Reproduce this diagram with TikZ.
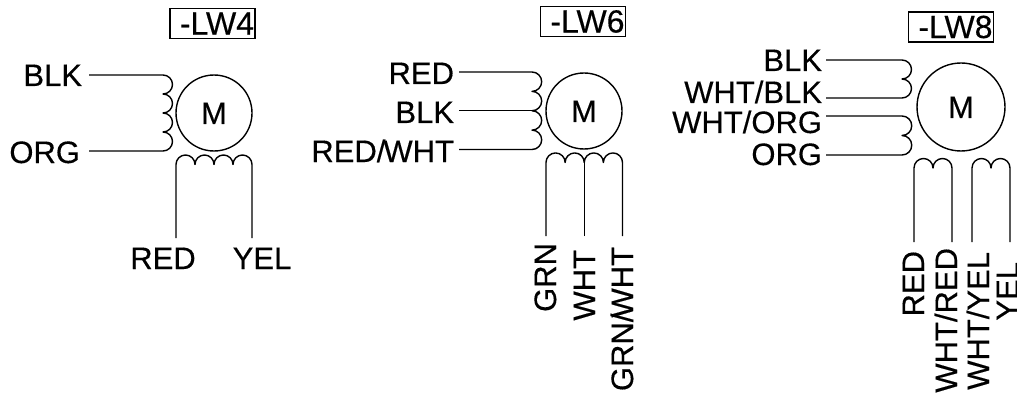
\documentclass[tikz,border=0pt]{standalone}
\usepackage{fontspec}
\setmainfont{Liberation Sans}
\newfontfamily\labfont[FakeBold=0.35]{Liberation Sans}
\tikzset{
  wire/.style={draw=black,line width=1.4pt,line join=round},
  lbl/.style={inner sep=0pt,outer sep=0pt,text height=22pt,text depth=0pt,font=\labfont\fontsize{31}{31}\selectfont},
  lblr/.style={lbl,anchor=east},
  lblv/.style={lbl,anchor=east,rotate=90},
  motor/.style={circle,draw=black,line width=1.4pt,inner sep=0pt,outer sep=0pt,text height=22pt,text depth=0pt,font=\labfont\fontsize{31}{31}\selectfont},
  tag/.style={draw=black,line width=1.3pt,inner xsep=1pt,inner ysep=0pt,outer sep=0pt,text width=83pt,align=right,minimum height=30pt,font=\labfont\fontsize{32}{32}\selectfont},
}
\begin{document}
\begin{tikzpicture}[x=1pt,y=-1pt]
\useasboundingbox (0,0) rectangle (1017,393);
%% LW4
\node[tag] (t4) at (212.5,23.5) {-LW4};
\node[motor,minimum size=76pt] (m4) at (214,113) {M};
\node[lblr] (l4a) at (82,75) {BLK};
\node[lblr] (l4b) at (80,152) {ORG};
\node[lbl] (l4c) at (163,258) {RED};
\node[lbl] (l4d) at (262,258) {YEL};
\coordinate (w4a) at (89,75);
\coordinate (w4b) at (89,151);
\coordinate (w4c) at (176,238);
\coordinate (w4d) at (252,238);
\draw[wire] (w4a) -- (163,75)
  arc[start angle=-90,end angle=90,radius=9.5]
  arc[start angle=-90,end angle=90,radius=9.5]
  arc[start angle=-90,end angle=90,radius=9.5]
  arc[start angle=-90,end angle=90,radius=9.5] -- (w4b);
\draw[wire] (w4c) -- (176,164.5)
  arc[start angle=180,end angle=360,radius=9.5]
  arc[start angle=180,end angle=360,radius=9.5]
  arc[start angle=180,end angle=360,radius=9.5]
  arc[start angle=180,end angle=360,radius=9.5] -- (176+76,164.5) -- (w4d);
%% LW6
\node[tag] (t6) at (583,21.5) {-LW6};
\node[motor,minimum size=76pt] (m6) at (584,111) {M};
\node[lblr] (l6a) at (454,73) {RED};
\node[lblr] (l6b) at (454,112) {BLK};
\node[lblr] (l6c) at (454,151) {RED/\kern-2pt WHT};
\node[lblv] (l6d) at (545,243) {GRN};
\node[lblv] (l6e) at (584,250) {WHT};
\node[lblv] (l6f) at (622,247) {GRN/\kern-4pt WHT};
\coordinate (w6a) at (459,72);
\coordinate (w6b) at (459,110.75);
\coordinate (w6c) at (459,149.5);
\coordinate (w6d) at (546,236);
\coordinate (w6e) at (584.25,236);
\coordinate (w6f) at (622.5,236);
\draw[wire] (w6a) -- (532,72)
  arc[start angle=-90,end angle=90,radius=9.6875]
  arc[start angle=-90,end angle=90,radius=9.6875]
  arc[start angle=-90,end angle=90,radius=9.6875]
  arc[start angle=-90,end angle=90,radius=9.6875] -- (w6c);
\draw[wire] (w6b) -- (532,110.75);
\draw[wire] (w6d) -- (546,162.5)
  arc[start angle=180,end angle=360,radius=9.5625]
  arc[start angle=180,end angle=360,radius=9.5625]
  arc[start angle=180,end angle=360,radius=9.5625]
  arc[start angle=180,end angle=360,radius=9.5625] -- (w6f);
\draw[wire] (w6e) -- (584.25,162.5);
%% LW8
\node[tag] (t8) at (951,27) {-LW8};
\node[motor,minimum size=88pt] (m8) at (961,107) {M};
\node[lblr] (l8a) at (822,60) {BLK};
\node[lblr] (l8b) at (822,92) {WHT/BLK};
\node[lblr] (l8c) at (822,122) {WHT/ORG};
\node[lblr] (l8d) at (822,154) {ORG};
\node[lblv] (l8e) at (913,251) {RED};
\node[lblv] (l8f) at (946,248) {WHT/RED};
\node[lblv] (l8g) at (978,252) {WHT/YEL};
\node[lblv] (l8h) at (1007,262) {YEL};
\coordinate (w8a) at (826,60);
\coordinate (w8b) at (826,98);
\coordinate (w8c) at (826,116);
\coordinate (w8d) at (826,155);
\coordinate (w8e) at (914,242);
\coordinate (w8f) at (952,242);
\coordinate (w8g) at (972,242);
\coordinate (w8h) at (1010,242);
\draw[wire] (w8a) -- (902,60)
  arc[start angle=-90,end angle=90,radius=9.5]
  arc[start angle=-90,end angle=90,radius=9.5] -- (w8b);
\draw[wire] (w8c) -- (902,116)
  arc[start angle=-90,end angle=90,radius=9.75]
  arc[start angle=-90,end angle=90,radius=9.75] -- (w8d);
\draw[wire] (w8e) -- (914,168)
  arc[start angle=180,end angle=360,radius=9.5]
  arc[start angle=180,end angle=360,radius=9.5] -- (w8f);
\draw[wire] (w8g) -- (972,168)
  arc[start angle=180,end angle=360,radius=9.5]
  arc[start angle=180,end angle=360,radius=9.5] -- (w8h);
\end{tikzpicture}
\end{document}
